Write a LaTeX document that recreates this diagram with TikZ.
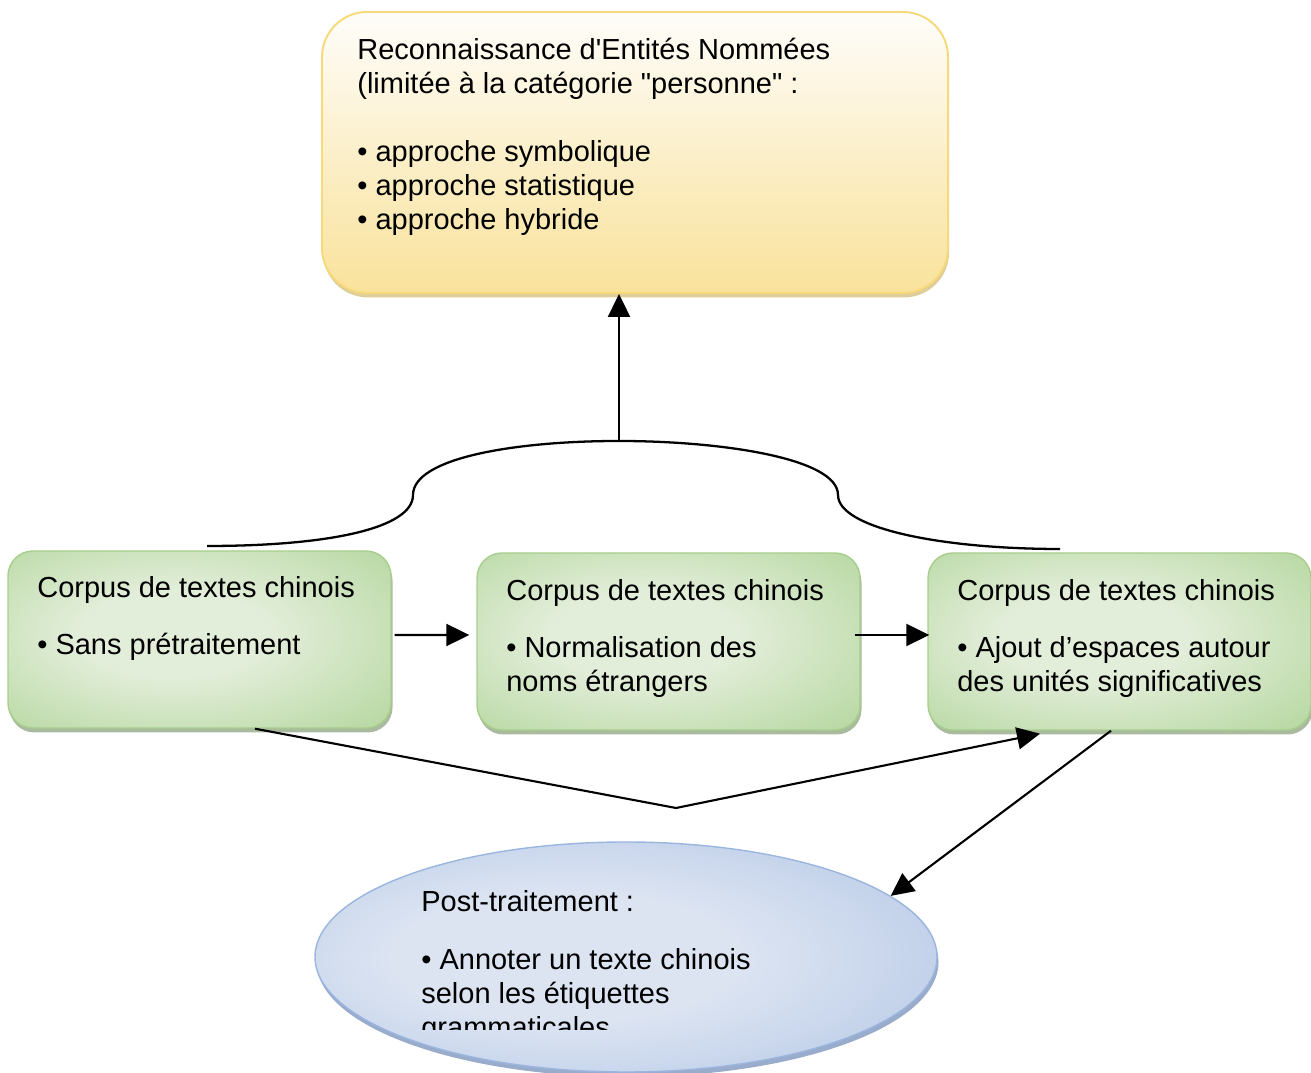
\documentclass[tikz,border=0pt]{standalone}
\usepackage{fontspec}
\newfontfamily\diagfont{Liberation Sans}
\usetikzlibrary{arrows.meta,calc,shadows,shapes.geometric}
\definecolor{nertop}{HTML}{FEFDFA}
\definecolor{nerbottom}{HTML}{F9E29B}
\definecolor{neredge}{HTML}{F8D97A}
\definecolor{nershadow}{HTML}{D9C98F}
\definecolor{greendark}{HTML}{B1D59A}
\definecolor{greenlight}{HTML}{E3EEDA}
\definecolor{greenedge}{HTML}{A7CE8C}
\definecolor{greenshadow}{HTML}{A0B294}
\definecolor{bluedark}{HTML}{A8BFE2}
\definecolor{bluelight}{HTML}{DCE4F2}
\definecolor{blueedge}{HTML}{9AB5DE}
\definecolor{blueshadow}{HTML}{8FA3C6}
\pgfdeclareradialshading{greenglow}{\pgfpoint{-4bp}{2bp}}{color(0bp)=(greenlight); color(12bp)=(greenlight); color(40bp)=(greendark); color(70bp)=(greendark)}
\pgfdeclareradialshading{blueglow}{\pgfpoint{-6bp}{0bp}}{color(0bp)=(bluelight); color(14bp)=(bluelight); color(44bp)=(bluedark); color(70bp)=(bluedark)}
\newcommand{\boxfont}{\diagfont\fontsize{16.5}{19.4}\selectfont}
\tikzset{
  nerbox/.style={draw=neredge, line width=1.1pt, rounded corners=0.9cm,
    minimum width=12.52cm, minimum height=5.62cm, top color=nertop, bottom color=nerbottom,
    drop shadow={shadow xshift=0.02cm, shadow yshift=-0.09cm, fill=nershadow, opacity=0.9}},
  corpusbox/.style={draw=greenedge, line width=0.8pt, rounded corners=0.5cm,
    minimum width=7.66cm, minimum height=3.54cm, shading=greenglow,
    drop shadow={shadow xshift=0.03cm, shadow yshift=-0.09cm, fill=greenshadow, opacity=0.9}},
  postbox/.style={ellipse, draw=blueedge, line width=0.8pt, inner sep=0pt,
    minimum width=12.44cm, minimum height=4.60cm, shading=blueglow,
    drop shadow={shadow xshift=0.03cm, shadow yshift=-0.1cm, fill=blueshadow, opacity=0.9}},
  boxtext/.style={anchor=base west, align=left, inner sep=0pt, font=\boxfont},
  arr/.style={line width=1.2pt, -{Triangle[length=0.46cm,width=0.44cm]}}
}
\begin{document}
\begin{tikzpicture}
\useasboundingbox (0,0) rectangle (26.22,21.46);
\node [nerbox] (ner) at (12.70,18.41) {};
\node [boxtext] (nertext) at (7.14,16.86) {Reconnaissance d'Entités Nommées\\(limitée à la catégorie "personne" :\\[19.4pt]• approche symbolique\\• approche statistique\\• approche hybride};

\node [corpusbox] (b1) at (3.99,8.67) {};
\node [corpusbox] (b2) at (13.37,8.63) {};
\node [corpusbox] (b3) at (22.39,8.63) {};
\node [boxtext] (t1) at (0.74,8.36) {Corpus de textes chinois\\[13.5pt]• Sans prétraitement};
\node [boxtext] (t2) at (10.12,7.62) {Corpus de textes chinois\\[13.5pt]• Normalisation des\\noms étrangers};
\node [boxtext] (t3) at (19.14,7.62) {Corpus de textes chinois\\[13.5pt]• Ajout d’espaces autour\\des unités significatives};

\node [postbox] (post) at (12.52,2.32) {};
\begin{scope}
\clip (7,0.86) rectangle (19,4.2);
\node [boxtext] (posttext) at (8.42,0.70) {Post-traitement :\\[13.5pt]• Annoter un texte chinois\\selon les étiquettes\\grammaticales};
\end{scope}

\coordinate (braceL) at (4.14,10.54);
\coordinate (braceR) at (21.20,10.48);
\coordinate (peak) at (12.38,12.64);
\coordinate (dip) at (13.52,5.30);
\draw [line width=1.3pt] (braceL) .. controls (6.6,10.54) and (8.26,10.9) .. (8.26,11.56)
  .. controls (8.26,12.3) and (10.3,12.64) .. (peak)
  .. controls (14.4,12.64) and (16.76,12.3) .. (16.76,11.56)
  .. controls (16.76,10.9) and (18.8,10.48) .. (braceR);
\draw [arr] (peak)--(peak |- ner.south);
\draw [arr] ([xshift=0.06cm,yshift=0.09cm]b1.east)--([xshift=-0.14cm,yshift=0.13cm]b2.west);
\draw [arr] ([xshift=-0.12cm,yshift=0.13cm]b2.east)--([xshift=0.04cm,yshift=0.13cm]b3.west);
\draw [arr] ([xshift=1.11cm]b1.south)--(dip)--([xshift=-1.59cm,yshift=-0.06cm]b3.south);
\draw [arr] ([xshift=-0.17cm]b3.south)--(post.13);
\end{tikzpicture}
\end{document}
